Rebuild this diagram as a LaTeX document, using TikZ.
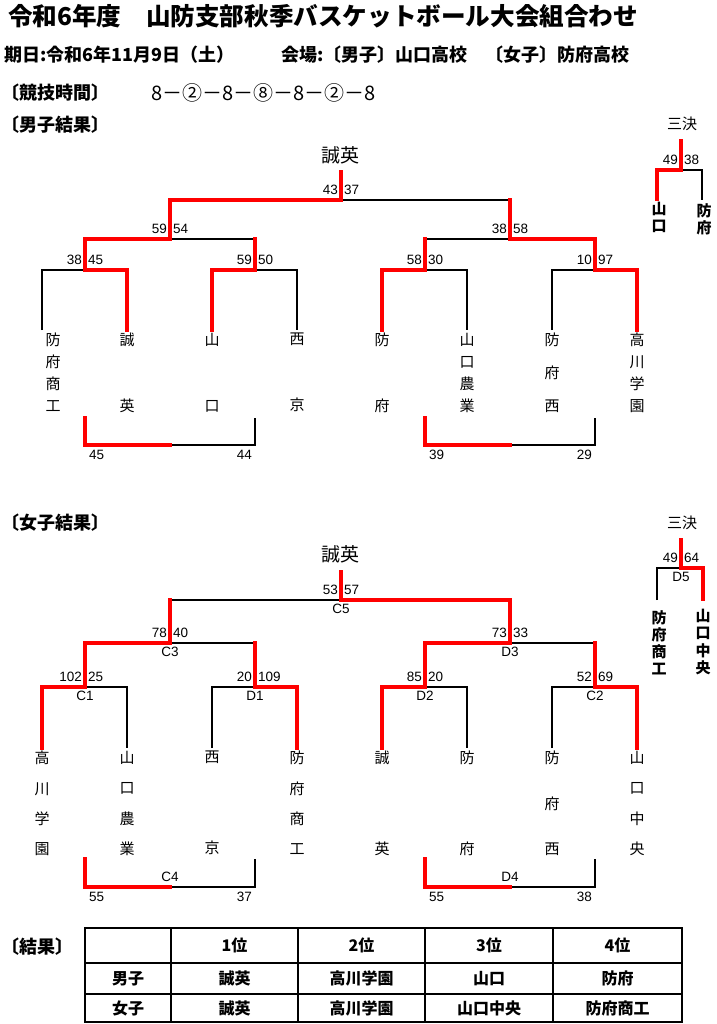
\documentclass[tikz,border=0pt]{standalone}
\usepackage{fontspec}
\setmainfont{Noto Sans CJK JP}
\newfontfamily\numf{Liberation Sans}
\usetikzlibrary{positioning}

\begin{document}
\begin{tikzpicture}[x=1pt, y=-1pt, line join=miter,
    lose/.style={line width=1.4pt},
    win/.style={line width=4.4pt, red, line cap=rect},
    sc/.style={font=\numf\fontsize{13.5}{13.5}\selectfont, inner sep=0pt},
    champ/.style={font=\fontsize{19}{19}\selectfont, inner sep=0pt},
    mname/.style={font=\fontsize{15}{22}\selectfont, align=center, inner sep=0pt},
    wname/.style={font=\fontsize{15}{30.33}\selectfont, align=center, inner sep=0pt},
    tname/.style={font=\bfseries\fontsize{15}{17.3}\selectfont, align=center, inner sep=0pt},
    head/.style={anchor=west, inner sep=0pt, font=\bfseries\fontsize{18}{18}\selectfont},
    cell/.style={font=\bfseries\fontsize{16}{16}\selectfont, inner sep=0pt}]
    \useasboundingbox (0,0) rectangle (716,1024);

    \node[head, font=\bfseries\fontsize{24.6}{24.6}\selectfont] (title) at (8,16) {令和6年度　山防支部秋季バスケットボール大会組合わせ};
    \node[head] (date) at (4,55) {期日:令和6年11月9日（土）};
    \node[head] (place) at (281,55) {会場:〔男子〕山口高校　〔女子〕防府高校};
    \node[head] (time) at (1,93) {〔競技時間〕};
    \node[head, font=\fontsize{20}{20}\selectfont] (rule) at (151,93) {8－②－8－⑧－8－②－8};
    \node[head] (mres) at (1,124.5) {〔男子結果〕};
    \node[head] (wres) at (1,523) {〔女子結果〕};
    \node[head] (res) at (1,947) {〔結果〕};

    % men
    \coordinate (mF) at (341,200);
    \coordinate (mTop) at (341,172);
    \coordinate (mS1) at (170,239);
    \coordinate (mS2) at (510,239);
    \coordinate (mQ1) at (85,270);
    \coordinate (mQ2) at (255,270);
    \coordinate (mQ3) at (425,270);
    \coordinate (mQ4) at (595,270);
    \coordinate (m1) at (42,330);
    \coordinate (m2) at (127,330);
    \coordinate (m3) at (212,330);
    \coordinate (m4) at (297,330);
    \coordinate (m5) at (382,330);
    \coordinate (m6) at (467,330);
    \coordinate (m7) at (552,330);
    \coordinate (m8) at (637,330);
    \coordinate (mB1) at (85,418);
    \coordinate (mB2) at (255,418);
    \coordinate (mB3) at (425,418);
    \coordinate (mB4) at (595,418);
    \coordinate (mC1) at (85,445);
    \coordinate (mC2) at (255,445);
    \coordinate (mC3) at (425,445);
    \coordinate (mC4) at (595,445);
    \coordinate (mL) at (170,445);
    \coordinate (mR) at (510,445);
    \coordinate (mT) at (681,170);
    \coordinate (mTT) at (681,141);
    \coordinate (t1) at (657,199);
    \coordinate (t2) at (702,200);

    \node[champ] (mwin) at (340,155) {誠英};
    \node[mname] (mn1) [below=3pt of m1, xshift=11pt] {防\\府\\商\\工};
    \node[mname] (mn2) [below=3pt of m2] {誠\\[44pt]英};
    \node[mname] (mn3) [below=3pt of m3] {山\\[44pt]口};
    \node[mname] (mn4) [below=3pt of m4] {西\\[44pt]京};
    \node[mname] (mn5) [below=3pt of m5] {防\\[44pt]府};
    \node[mname] (mn6) [below=3pt of m6] {山\\口\\農\\業};
    \node[mname] (mn7) [below=3pt of m7] {防\\[11pt]府\\[11pt]西};
    \node[mname] (mn8) [below=3pt of m8] {高\\川\\学\\園};
    \node[champ, font=\fontsize{15}{15}\selectfont] (mthird) at (682,124) {三決};
    \node[tname] (tn1) [below=3pt of t1, xshift=2pt] {山\\口};
    \node[tname] (tn2) [below=3pt of t2, xshift=2pt] {防\\府};

    \draw[lose] (m1) |- (mQ1) -| (m2);
    \draw[lose] (m3) |- (mQ2) -| (m4);
    \draw[lose] (m5) |- (mQ3) -| (m6);
    \draw[lose] (m7) |- (mQ4) -| (m8);
    \draw[lose] (mQ1) |- (mS1) -| (mQ2);
    \draw[lose] (mQ3) |- (mS2) -| (mQ4);
    \draw[lose] (mS1) |- (mF) -| (mS2);
    \draw[lose] (mB1) -- (mC1) -- (mC2) -- (mB2);
    \draw[lose] (mB3) -- (mC3) -- (mC4) -- (mB4);
    \draw[lose] (t1) |- (mT) -| (t2);
    \draw[win] (m2) |- (mQ1) |- (mS1) |- (mF) -- (mTop);
    \draw[win] (m3) |- (mQ2) -- (mQ2 |- mS1);
    \draw[win] (m5) |- (mQ3) -- (mQ3 |- mS2);
    \draw[win] (m8) |- (mQ4) |- (mS2) -- (mS2 |- mF);
    \draw[win] (mB1) -- (mC1) -- (mL);
    \draw[win] (mB3) -- (mC3) -- (mR);
    \draw[win] (t1) |- (mT) -- (mTT);

    \node[sc] (mFa) [above left=5pt and 3pt of mF] {43};
    \node[sc] (mFb) [above right=5pt and 3pt of mF] {37};
    \node[sc] (mS1a) [above left=5pt and 3pt of mS1] {59};
    \node[sc] (mS1b) [above right=5pt and 3pt of mS1] {54};
    \node[sc] (mS2a) [above left=5pt and 3pt of mS2] {38};
    \node[sc] (mS2b) [above right=5pt and 3pt of mS2] {58};
    \node[sc] (mQ1a) [above left=5pt and 3pt of mQ1] {38};
    \node[sc] (mQ1b) [above right=5pt and 3pt of mQ1] {45};
    \node[sc] (mQ2a) [above left=5pt and 3pt of mQ2] {59};
    \node[sc] (mQ2b) [above right=5pt and 3pt of mQ2] {50};
    \node[sc] (mQ3a) [above left=5pt and 3pt of mQ3] {58};
    \node[sc] (mQ3b) [above right=5pt and 3pt of mQ3] {30};
    \node[sc] (mQ4a) [above left=5pt and 3pt of mQ4] {10};
    \node[sc] (mQ4b) [above right=5pt and 3pt of mQ4] {97};
    \node[sc] (mTa) [above left=5pt and 3pt of mT] {49};
    \node[sc] (mTb) [above right=5pt and 3pt of mT] {38};
    \node[sc] (mC1a) [below right=5pt and 4pt of mC1] {45};
    \node[sc] (mC2a) [below left=5pt and 3pt of mC2] {44};
    \node[sc] (mC3a) [below right=5pt and 4pt of mC3] {39};
    \node[sc] (mC4a) [below left=5pt and 3pt of mC4] {29};

    % women
    \coordinate (wF) at (341,600);
    \coordinate (wTop) at (341,572);
    \coordinate (wS1) at (170,643);
    \coordinate (wS2) at (510,643);
    \coordinate (wQ1) at (85,687);
    \coordinate (wQ2) at (255,687);
    \coordinate (wQ3) at (425,687);
    \coordinate (wQ4) at (595,687);
    \coordinate (w1) at (42,748);
    \coordinate (w2) at (127,748);
    \coordinate (w3) at (212,748);
    \coordinate (w4) at (297,748);
    \coordinate (w5) at (382,748);
    \coordinate (w6) at (467,748);
    \coordinate (w7) at (552,748);
    \coordinate (w8) at (637,748);
    \coordinate (wB1) at (85,859);
    \coordinate (wB2) at (255,859);
    \coordinate (wB3) at (425,859);
    \coordinate (wB4) at (595,859);
    \coordinate (wC1) at (85,887);
    \coordinate (wC2) at (255,887);
    \coordinate (wC3) at (425,887);
    \coordinate (wC4) at (595,887);
    \coordinate (wL) at (170,887);
    \coordinate (wR) at (510,887);
    \coordinate (wT) at (681,568);
    \coordinate (wTT) at (681,540);
    \coordinate (u1) at (657,600);
    \coordinate (u2) at (703,599);

    \node[champ] (wwin) at (340,554) {誠英};
    \node[wname] (wn1) [below=3pt of w1] {高\\川\\学\\園};
    \node[wname] (wn2) [below=3pt of w2] {山\\口\\農\\業};
    \node[wname] (wn3) [below=3pt of w3] {西\\[60.67pt]京};
    \node[wname] (wn4) [below=3pt of w4] {防\\府\\商\\工};
    \node[wname] (wn5) [below=3pt of w5] {誠\\[60.67pt]英};
    \node[wname] (wn6) [below=3pt of w6] {防\\[60.67pt]府};
    \node[wname] (wn7) [below=3pt of w7] {防\\[15.17pt]府\\[15.17pt]西};
    \node[wname] (wn8) [below=3pt of w8] {山\\口\\中\\央};
    \node[champ, font=\fontsize{15}{15}\selectfont] (wthird) at (682,523) {三決};
    \node[tname] (un1) [below=10pt of u1, xshift=2pt] {防\\府\\商\\工};
    \node[tname] (un2) [below=10pt of u2] {山\\口\\中\\央};

    \draw[lose] (w1) |- (wQ1) -| (w2);
    \draw[lose] (w3) |- (wQ2) -| (w4);
    \draw[lose] (w5) |- (wQ3) -| (w6);
    \draw[lose] (w7) |- (wQ4) -| (w8);
    \draw[lose] (wQ1) |- (wS1) -| (wQ2);
    \draw[lose] (wQ3) |- (wS2) -| (wQ4);
    \draw[lose] (wS1) |- (wF) -| (wS2);
    \draw[lose] (wB1) -- (wC1) -- (wC2) -- (wB2);
    \draw[lose] (wB3) -- (wC3) -- (wC4) -- (wB4);
    \draw[lose] (u1) |- (wT) -| (u2);
    \draw[win] (w5) |- (wQ3) |- (wS2) |- (wF) -- (wTop);
    \draw[win] (w1) |- (wQ1) |- (wS1) -- (wS1 |- wF);
    \draw[win] (w4) |- (wQ2) -- (wQ2 |- wS1);
    \draw[win] (w8) |- (wQ4) -- (wQ4 |- wS2);
    \draw[win] (wB1) -- (wC1) -- (wL);
    \draw[win] (wB3) -- (wC3) -- (wR);
    \draw[win] (u2) |- (wT) -- (wTT);

    \node[sc] (wFa) [above left=5pt and 3pt of wF] {53};
    \node[sc] (wFb) [above right=5pt and 3pt of wF] {57};
    \node[sc] (wS1a) [above left=5pt and 3pt of wS1] {78};
    \node[sc] (wS1b) [above right=5pt and 3pt of wS1] {40};
    \node[sc] (wS2a) [above left=5pt and 3pt of wS2] {73};
    \node[sc] (wS2b) [above right=5pt and 3pt of wS2] {33};
    \node[sc] (wQ1a) [above left=5pt and 3pt of wQ1] {102};
    \node[sc] (wQ1b) [above right=5pt and 3pt of wQ1] {25};
    \node[sc] (wQ2a) [above left=5pt and 3pt of wQ2] {20};
    \node[sc] (wQ2b) [above right=5pt and 3pt of wQ2] {109};
    \node[sc] (wQ3a) [above left=5pt and 3pt of wQ3] {85};
    \node[sc] (wQ3b) [above right=5pt and 3pt of wQ3] {20};
    \node[sc] (wQ4a) [above left=5pt and 3pt of wQ4] {52};
    \node[sc] (wQ4b) [above right=5pt and 3pt of wQ4] {69};
    \node[sc] (wTa) [above left=5pt and 3pt of wT] {49};
    \node[sc] (wTb) [above right=5pt and 3pt of wT] {64};
    \node[sc] (wC1a) [below right=5pt and 4pt of wC1] {55};
    \node[sc] (wC2a) [below left=5pt and 3pt of wC2] {37};
    \node[sc] (wC3a) [below right=5pt and 4pt of wC3] {55};
    \node[sc] (wC4a) [below left=5pt and 3pt of wC4] {38};
    \node[sc] (gC5) [below=4pt of wF] {C5};
    \node[sc] (gC3) [below=4pt of wS1] {C3};
    \node[sc] (gD3) [below=4pt of wS2] {D3};
    \node[sc] (gC1) [below=4pt of wQ1] {C1};
    \node[sc] (gD1) [below=4pt of wQ2] {D1};
    \node[sc] (gD2) [below=4pt of wQ3] {D2};
    \node[sc] (gC2) [below=4pt of wQ4] {C2};
    \node[sc] (gD5) [below=4pt of wT] {D5};
    \node[sc] (gC4) [above=5pt of wL] {C4};
    \node[sc] (gD4) [above=5pt of wR] {D4};

    % results
    \draw[line width=1.6pt] (85,928) rectangle (682,1022);
    \draw[line width=1.6pt] (85,963) -- (682,963) (85,994) -- (682,994)
        (171,928) -- (171,1022) (298,928) -- (298,1022)
        (425,928) -- (425,1022) (553,928) -- (553,1022);
    \node[cell] (h1) at (234.5,945.5) {1位};
    \node[cell] (h2) at (361.5,945.5) {2位};
    \node[cell] (h3) at (489,945.5) {3位};
    \node[cell] (h4) at (617.5,945.5) {4位};
    \node[cell] (rm) at (128,978.5) {男子};
    \node[cell] (rm1) at (234.5,978.5) {誠英};
    \node[cell] (rm2) at (361.5,978.5) {高川学園};
    \node[cell] (rm3) at (489,978.5) {山口};
    \node[cell] (rm4) at (617.5,978.5) {防府};
    \node[cell] (rw) at (128,1008) {女子};
    \node[cell] (rw1) at (234.5,1008) {誠英};
    \node[cell] (rw2) at (361.5,1008) {高川学園};
    \node[cell] (rw3) at (489,1008) {山口中央};
    \node[cell] (rw4) at (617.5,1008) {防府商工};
\end{tikzpicture}
\end{document}
